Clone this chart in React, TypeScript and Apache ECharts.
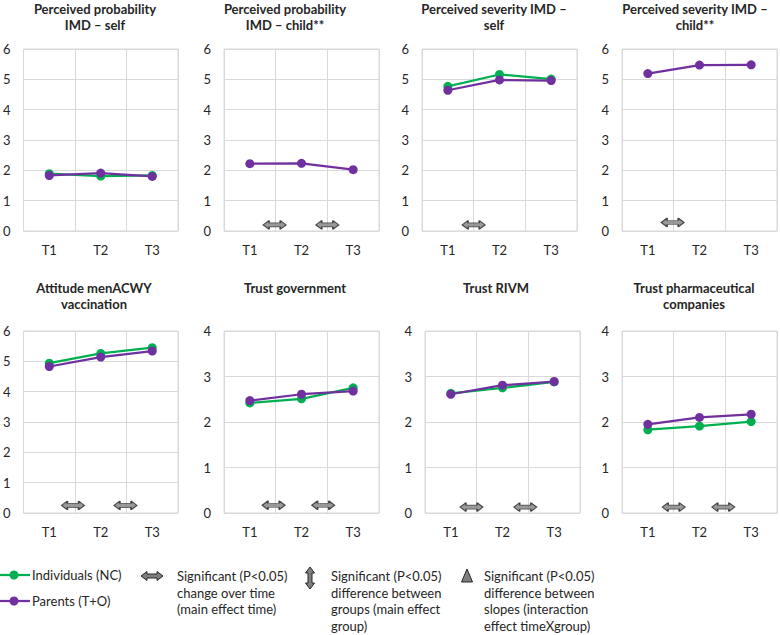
import React, { useEffect, useRef } from "react";
import * as echarts from "echarts";

const categories = ["T1", "T2", "T3"];

const panelTitles = [
  "Perceived probability\nIMD – self",
  "Perceived probability\nIMD – child**",
  "Perceived severity IMD –\nself",
  "Perceived severity IMD –\nchild**",
  "Attitude menACWY\nvaccination",
  "Trust government",
  "Trust RIVM",
  "Trust pharmaceutical\ncompanies",
];

const yMax = [6, 6, 6, 6, 6, 4, 4, 4];

const individuals: (number[] | null)[] = [
  [1.89, 1.81, 1.83],
  null,
  [4.77, 5.16, 5.01],
  null,
  [4.94, 5.26, 5.45],
  [2.42, 2.51, 2.75],
  [2.63, 2.75, 2.88],
  [1.83, 1.91, 2.01],
];

const parents: number[][] = [
  [1.83, 1.91, 1.8],
  [2.22, 2.23, 2.02],
  [4.64, 4.98, 4.96],
  [5.19, 5.47, 5.48],
  [4.83, 5.14, 5.34],
  [2.47, 2.61, 2.68],
  [2.61, 2.81, 2.89],
  [1.95, 2.1, 2.17],
];

// significant change over time markers: position between time points, height on y axis
const timeArrowX: number[][] = [
  [],
  [0.48, 1.5],
  [0.5],
  [0.48],
  [0.46, 1.48],
  [0.46, 1.42],
  [0.4, 1.44],
  [0.5, 1.46],
];
const timeArrowY = [0, 0.2, 0.2, 0.28, 0.25, 0.17, 0.13, 0.13];

const GREEN = "#00B050";
const PURPLE = "#7030A0";
const GRID = "#d9d9d9";
const TEXT = "#262626";
const FONT = "Lato, 'Open Sans', sans-serif";

const gridLefts = [
  [23, 224, 422, 622],
  [23, 224, 425, 622],
];
const gridTops = [49, 331];
const titleCenters = [95, 285, 494, 695, 94, 295, 496, 694];
const titleTops = [1, 280];

const arrowPath =
  "path://M0,4.5 L6,0 L6,2.5 L17,2.5 L17,0 L23,4.5 L17,9 L17,6.5 L6,6.5 L6,9 Z";

export default function App() {
  const ref = useRef<HTMLDivElement>(null);

  useEffect(() => {
    if (!ref.current) return;
    const chart = echarts.init(ref.current, null, { renderer: "svg" });

    const grids: any[] = [];
    const xAxes: any[] = [];
    const yAxes: any[] = [];
    const series: any[] = [];
    const graphics: any[] = [];

    for (let i = 0; i < 8; i++) {
      const row = Math.floor(i / 4);
      const col = i % 4;
      grids.push({
        left: gridLefts[row][col],
        top: gridTops[row],
        width: 155,
        height: 182,
        show: true,
        borderColor: GRID,
        borderWidth: 1,
        containLabel: false,
      });
      xAxes.push({
        type: "category",
        gridIndex: i,
        data: categories,
        axisLine: { show: false },
        axisTick: { show: false },
        axisLabel: {
          interval: 0,
          margin: 12,
          fontSize: 13,
          color: TEXT,
          fontFamily: FONT,
        },
        splitLine: { show: true, interval: 0, lineStyle: { color: GRID, width: 1 } },
      });
      yAxes.push({
        type: "value",
        gridIndex: i,
        min: 0,
        max: yMax[i],
        interval: 1,
        axisLine: { show: false },
        axisTick: { show: false },
        axisLabel: { margin: 13, fontSize: 13, color: TEXT, fontFamily: FONT },
        splitLine: { show: true, lineStyle: { color: GRID, width: 1 } },
      });
    }
    // hidden value axes for the between-time markers
    for (let i = 0; i < 8; i++) {
      xAxes.push({
        type: "value",
        gridIndex: i,
        min: -0.5,
        max: 2.5,
        show: false,
      });
    }

    for (let i = 0; i < 8; i++) {
      const ind = individuals[i];
      if (ind) {
        series.push({
          type: "line",
          name: "Individuals (NC)",
          xAxisIndex: i,
          yAxisIndex: i,
          data: ind,
          symbol: "circle",
          symbolSize: 9,
          lineStyle: { color: GREEN, width: 2.25 },
          itemStyle: { color: GREEN },
        });
      }
      series.push({
        type: "line",
        name: "Parents (T+O)",
        xAxisIndex: i,
        yAxisIndex: i,
        data: parents[i],
        symbol: "circle",
        symbolSize: 9,
        lineStyle: { color: PURPLE, width: 2.25 },
        itemStyle: { color: PURPLE },
      });
      if (timeArrowX[i].length) {
        series.push({
          type: "scatter",
          name: "Significant change over time",
          xAxisIndex: 8 + i,
          yAxisIndex: i,
          data: timeArrowX[i].map((x) => [x, timeArrowY[i]]),
          symbol: arrowPath,
          symbolSize: [23, 9],
          itemStyle: { color: "#7f7f7f", borderColor: "#262626", borderWidth: 1 },
          z: 5,
        });
      }

      const row = Math.floor(i / 4);
      graphics.push({
        type: "text",
        x: titleCenters[i],
        y: titleTops[row],
        style: {
          text: panelTitles[i],
          font: `bold 13px ${FONT}`,
          lineHeight: 16,
          fill: TEXT,
          textAlign: "center",
          textVerticalAlign: "top",
        },
      });
    }

    // Legend
    const legendFont = `13px ${FONT}`;
    const leg = [
      { y: 575, color: GREEN, label: "Individuals (NC)" },
      { y: 601, color: PURPLE, label: "Parents (T+O)" },
    ];
    leg.forEach((l) => {
      graphics.push({
        type: "line",
        shape: { x1: 0, y1: l.y, x2: 30, y2: l.y },
        style: { stroke: l.color, lineWidth: 2.25 },
      });
      graphics.push({
        type: "circle",
        shape: { cx: 14, cy: l.y, r: 4.5 },
        style: { fill: l.color },
      });
      graphics.push({
        type: "text",
        x: 32,
        y: l.y,
        style: {
          text: l.label,
          font: legendFont,
          fill: TEXT,
          textAlign: "left",
          textVerticalAlign: "middle",
        },
      });
    });

    // horizontal double arrow
    graphics.push({
      type: "polygon",
      shape: {
        points: [
          [141, 576],
          [147, 571.5],
          [147, 574],
          [157, 574],
          [157, 571.5],
          [163, 576],
          [157, 580.5],
          [157, 578],
          [147, 578],
          [147, 580.5],
        ],
      },
      style: { fill: "#7f7f7f", stroke: "#262626", lineWidth: 1 },
    });
    // vertical double arrow
    graphics.push({
      type: "polygon",
      shape: {
        points: [
          [310, 567],
          [314.5, 573],
          [312, 573],
          [312, 583],
          [314.5, 583],
          [310, 589],
          [305.5, 583],
          [308, 583],
          [308, 573],
          [305.5, 573],
        ],
      },
      style: { fill: "#7f7f7f", stroke: "#262626", lineWidth: 1 },
    });
    // triangle
    graphics.push({
      type: "polygon",
      shape: {
        points: [
          [467, 569],
          [472.5, 582],
          [461.5, 582],
        ],
      },
      style: { fill: "#7f7f7f", stroke: "#262626", lineWidth: 1 },
    });

    const legendTexts = [
      { x: 177, text: "Significant (P<0.05)\nchange over time\n(main effect time)" },
      { x: 331, text: "Significant (P<0.05)\ndifference between\ngroups (main effect\ngroup)" },
      { x: 484, text: "Significant (P<0.05)\ndifference between\nslopes (interaction\neffect timeXgroup)" },
    ];
    legendTexts.forEach((t) => {
      graphics.push({
        type: "text",
        x: t.x,
        y: 568,
        style: {
          text: t.text,
          font: legendFont,
          lineHeight: 16.5,
          fill: TEXT,
          textAlign: "left",
          textVerticalAlign: "top",
        },
      });
    });

    chart.setOption({
      animation: false,
      backgroundColor: "#ffffff",
      textStyle: { fontFamily: FONT },
      grid: grids,
      xAxis: xAxes,
      yAxis: yAxes,
      series,
      graphic: graphics,
    });

    return () => {
      chart.dispose();
    };
  }, []);

  return (
    <div
      ref={ref}
      style={{ position: "absolute", left: 0, top: 0, width: 780, height: 635 }}
    />
  );
}
